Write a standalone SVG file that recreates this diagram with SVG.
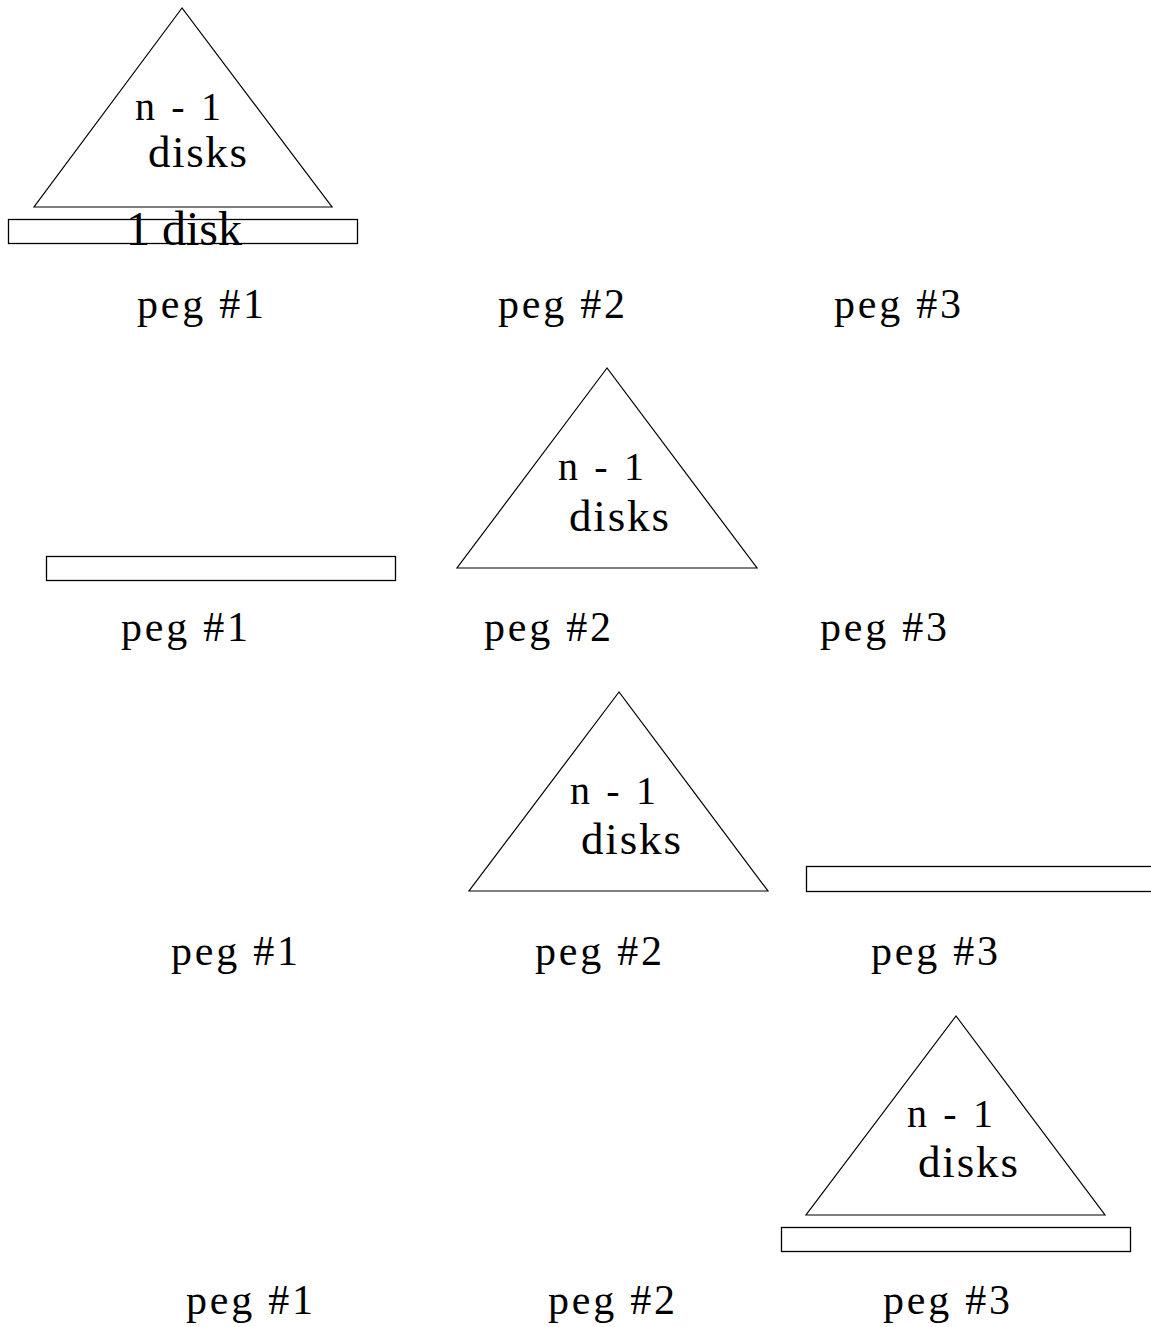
<svg xmlns="http://www.w3.org/2000/svg" width="1151" height="1327" viewBox="0 0 1151 1327">
  <style>
    .tri { fill: none; stroke: #000; stroke-width: 1.2; }
    .disk { fill: none; stroke: #000; stroke-width: 1.3; }
    .lbl { font-family: "Liberation Serif", "Times New Roman", serif; fill: #000; }
    .peg { font-size: 42px; }
    .n1 { font-size: 40px; }
    .dk { font-size: 45px; }
    .one { font-size: 48px; }
  </style>
  <rect width="1151" height="1327" fill="#fff"/>

  <!-- Stage 1: everything on peg #1 -->
  <g id="stage1">
    <g id="s1-stack">
      <polygon class="tri" points="182,8 34,207 332,207"/>
      <text class="lbl n1" x="135" y="120" textLength="86" lengthAdjust="spacing">n - 1</text>
      <text class="lbl dk" x="148" y="167" textLength="99" lengthAdjust="spacing">disks</text>
    </g>
    <g id="s1-disk">
      <rect class="disk" x="8.5" y="219.5" width="349" height="24"/>
      <text class="lbl one" x="126" y="245" textLength="116" lengthAdjust="spacingAndGlyphs">1 disk</text>
    </g>
    <g id="s1-pegs">
      <text class="lbl peg" x="137" y="318" textLength="127" lengthAdjust="spacing">peg #1</text>
      <text class="lbl peg" x="498" y="318" textLength="127" lengthAdjust="spacing">peg #2</text>
      <text class="lbl peg" x="834" y="318" textLength="127" lengthAdjust="spacing">peg #3</text>
    </g>
  </g>

  <!-- Stage 2: n - 1 disks moved to peg #2 -->
  <g id="stage2">
    <g id="s2-disk">
      <rect class="disk" x="46.5" y="556.5" width="349" height="24"/>
    </g>
    <g id="s2-stack">
      <polygon class="tri" points="607,368 457,568 757,568"/>
      <text class="lbl n1" x="558" y="480" textLength="86" lengthAdjust="spacing">n - 1</text>
      <text class="lbl dk" x="569" y="531" textLength="100" lengthAdjust="spacing">disks</text>
    </g>
    <g id="s2-pegs">
      <text class="lbl peg" x="121" y="641" textLength="127" lengthAdjust="spacing">peg #1</text>
      <text class="lbl peg" x="484" y="641" textLength="127" lengthAdjust="spacing">peg #2</text>
      <text class="lbl peg" x="820" y="641" textLength="127" lengthAdjust="spacing">peg #3</text>
    </g>
  </g>

  <!-- Stage 3: largest disk moved to peg #3 -->
  <g id="stage3">
    <g id="s3-stack">
      <polygon class="tri" points="619,692 469,891 768,891"/>
      <text class="lbl n1" x="570" y="804" textLength="86" lengthAdjust="spacing">n - 1</text>
      <text class="lbl dk" x="581" y="854" textLength="100" lengthAdjust="spacing">disks</text>
    </g>
    <g id="s3-disk">
      <rect class="disk" x="806.5" y="866.5" width="360" height="25"/>
    </g>
    <g id="s3-pegs">
      <text class="lbl peg" x="171" y="965" textLength="127" lengthAdjust="spacing">peg #1</text>
      <text class="lbl peg" x="535" y="965" textLength="127" lengthAdjust="spacing">peg #2</text>
      <text class="lbl peg" x="871" y="965" textLength="127" lengthAdjust="spacing">peg #3</text>
    </g>
  </g>

  <!-- Stage 4: n - 1 disks moved on top, all on peg #3 -->
  <g id="stage4">
    <g id="s4-stack">
      <polygon class="tri" points="956,1016 806,1215 1105,1215"/>
      <text class="lbl n1" x="907" y="1127" textLength="86" lengthAdjust="spacing">n - 1</text>
      <text class="lbl dk" x="918" y="1177" textLength="100" lengthAdjust="spacing">disks</text>
    </g>
    <g id="s4-disk">
      <rect class="disk" x="781.5" y="1227.5" width="349" height="24"/>
    </g>
    <g id="s4-pegs">
      <text class="lbl peg" x="186" y="1314" textLength="127" lengthAdjust="spacing">peg #1</text>
      <text class="lbl peg" x="548" y="1314" textLength="127" lengthAdjust="spacing">peg #2</text>
      <text class="lbl peg" x="883" y="1314" textLength="127" lengthAdjust="spacing">peg #3</text>
    </g>
  </g>

  <!-- no connectors in this figure -->
  <g id="connectors"/>
</svg>
